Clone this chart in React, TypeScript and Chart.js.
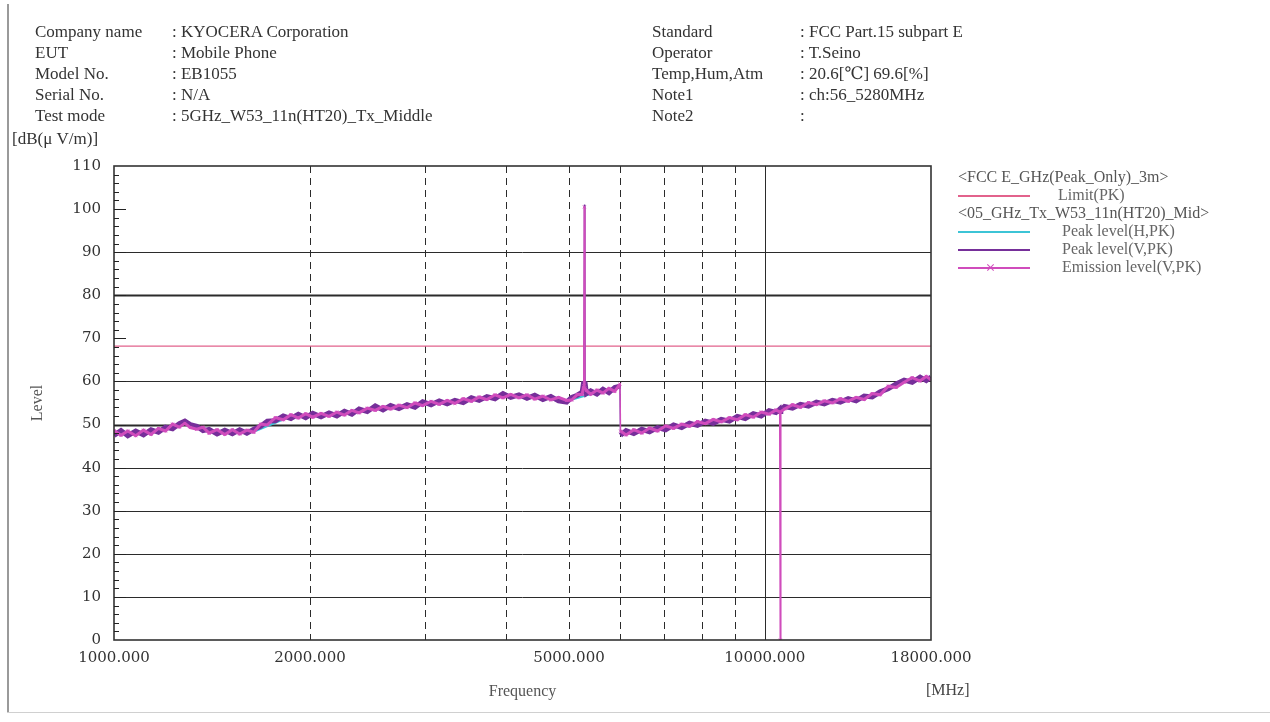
import React, { useEffect, useRef } from 'react';
import { Chart, registerables } from 'chart.js';
Chart.register(...registerables);

const TICK_FONT = '"DejaVu Serif", "Liberation Serif", serif';
const TEXT_FONT = '"Liberation Serif", "DejaVu Serif", serif';

// ---- axis definitions ----
const yMin = 0;
const yMax = 110;
const yGridLines = [10, 20, 30, 40, 50, 60, 80, 90];
const yThickLines = [50, 80];
const xMin = 1000;
const xMax = 18000;
const xTickValues = [1000, 2000, 3000, 4000, 5000, 6000, 7000, 8000, 9000, 10000, 18000];
const xLabelValues = [1000, 2000, 5000, 10000, 18000];
const xDashedLines = [2000, 3000, 4000, 5000, 6000, 7000, 8000, 9000];
const xSolidLines = [10000];

// ---- limit ----
const limitFreqs = [1000, 18000];
const limitLevels = [68.2, 68.2];

// ---- measured traces (MHz / dBuV/m) ----
const freqs = [
  1000, 1025, 1050, 1080, 1110, 1140, 1170, 1200, 1230, 1260,
  1285, 1310, 1340, 1370, 1400, 1440, 1480, 1520, 1560, 1600,
  1640, 1680, 1720, 1770, 1820, 1870, 1920, 1970, 2020, 2080,
  2140, 2200, 2260, 2320, 2380, 2450, 2520, 2590, 2660, 2740,
  2820, 2900, 2980, 3070, 3160, 3250, 3340, 3440, 3540, 3640,
  3740, 3850, 3960, 4070, 4190, 4310, 4430, 4560, 4690, 4820,
  4960, 5050, 5150, 5240, 5270, 5280, 5290, 5320, 5400, 5520,
  5640, 5760, 5880, 5990, 6000, 6120, 6290, 6470, 6650, 6840,
  7040, 7240, 7450, 7660, 7880, 8100, 8330, 8570, 8820, 9070,
  9330, 9600, 9870, 10150, 10400, 10540, 10560, 10580, 10720, 11030,
  11340, 11670, 12000, 12340, 12700, 13060, 13430, 13810, 14210, 14620,
  15040, 15470, 15910, 16370, 16840, 17320, 17700, 18000,
];

const peakV = [
  47.5, 48.6, 47.4, 48.5, 47.6, 48.8, 48.2, 49.4, 49.0, 50.2,
  50.8, 50.0, 49.6, 48.6, 48.9, 47.8, 48.7, 47.9, 48.8, 48.0,
  48.9, 49.6, 50.8, 50.9, 52.0, 51.4, 52.4, 51.6, 52.6, 51.8,
  52.7, 52.0, 53.1, 52.4, 53.6, 53.0, 54.3, 53.4, 54.4, 53.7,
  54.6, 54.0, 55.3, 54.6, 55.5, 54.8, 55.6, 55.1, 56.2, 55.6,
  56.5, 56.0, 57.2, 56.3, 56.9, 56.1, 56.8, 55.8, 56.5, 55.5,
  55.2, 56.3, 56.8, 57.5, 60.0, 101.0, 60.0, 57.2, 57.8, 57.1,
  58.2, 57.4, 58.6, 58.9, 47.5, 48.6, 47.9, 48.9, 48.3, 49.3,
  48.8, 49.9, 49.3, 50.3, 49.8, 50.8, 50.3, 51.2, 50.8, 51.9,
  51.4, 52.5, 52.0, 53.2, 52.8, 53.6, 53.0, 53.4, 54.2, 53.8,
  54.7, 54.3, 55.2, 54.8, 55.6, 55.2, 56.0, 55.5, 56.6, 56.4,
  57.6, 58.3, 59.4, 60.3, 59.8, 61.0, 60.2, 61.0,
];

const emissionV = [
  48.6, 47.5, 48.5, 47.4, 48.7, 47.7, 49.1, 48.5, 50.1, 49.4,
  50.3, 49.3, 48.9, 49.4, 48.0, 48.8, 47.7, 48.8, 47.8, 48.7,
  48.2, 50.1, 49.9, 51.6, 51.1, 52.3, 51.5, 52.5, 51.7, 52.6,
  51.9, 52.9, 52.2, 53.3, 52.7, 53.8, 53.3, 54.2, 53.6, 54.5,
  53.9, 55.0, 54.4, 55.4, 54.7, 55.6, 54.9, 56.0, 55.4, 56.4,
  55.8, 56.9, 56.2, 57.0, 56.2, 56.9, 55.9, 56.6, 55.7, 56.3,
  55.6, 55.7, 57.0, 57.0, 59.0, 100.5, 58.5, 57.9, 57.0, 58.0,
  57.3, 58.4, 57.7, 59.4, 48.5, 47.6, 48.8, 48.0, 49.2, 48.5,
  49.7, 49.1, 50.1, 49.6, 50.7, 50.2, 51.2, 50.6, 51.6, 51.1,
  52.3, 51.7, 52.9, 52.4, 53.4, 52.9, 0.0, 53.0, 53.6, 54.6,
  54.0, 55.1, 54.6, 55.5, 55.0, 56.0, 55.4, 56.3, 55.8, 57.2,
  56.9, 58.9, 58.6, 59.8, 60.9, 60.1, 61.2, 60.4,
];

const freqsH = [
  1000, 1150, 1285, 1450, 1650, 1850, 2000, 2400, 2800, 3200,
  3600, 4000, 4500, 5000, 5500, 5990, 6000, 7000, 8000, 9000,
  10000, 11000, 12000, 13000, 14000, 15000, 16000, 17000, 18000,
];
const peakH = [
  48.0, 48.2, 50.3, 48.2, 48.5, 51.6, 52.1, 53.2, 54.2, 55.0,
  55.8, 56.6, 56.3, 55.6, 57.4, 58.8, 48.0, 49.1, 50.4, 51.4,
  52.6, 54.1, 54.9, 55.5, 56.2, 57.3, 59.8, 60.3, 60.7,
];

// ---- colours ----
const C_LIMIT = '#e2628c';
const C_H = '#3cc4d6';
const C_V = '#762f9a';
const C_EM = '#d04cbc';
const C_GRID = '#2b2b2b';

const pts = (xs: number[], ys: number[]) => xs.map((x, i) => ({ x, y: ys[i] }));
const jumpWidth = (thin: number, thick: number) => (ctx: any) =>
  Math.abs(ctx.p1.parsed.y - ctx.p0.parsed.y) > 8 ? thin : thick;

const framePlugin = {
  id: 'frame',
  beforeDatasetsDraw(chart: any) {
    const { ctx, chartArea: a, scales } = chart;
    const x = scales.x;
    const y = scales.y;
    ctx.save();
    ctx.strokeStyle = C_GRID;
    for (const v of yGridLines) {
      const py = Math.round(y.getPixelForValue(v)) + 0.5;
      ctx.lineWidth = yThickLines.includes(v) ? 2.2 : 1;
      ctx.setLineDash([]);
      ctx.beginPath();
      ctx.moveTo(a.left, py);
      ctx.lineTo(a.right, py);
      ctx.stroke();
    }
    ctx.lineWidth = 1;
    for (const v of xDashedLines) {
      const px = Math.round(x.getPixelForValue(v)) + 0.5;
      ctx.setLineDash([7, 5]);
      ctx.beginPath();
      ctx.moveTo(px, a.top);
      ctx.lineTo(px, a.bottom);
      ctx.stroke();
    }
    for (const v of xSolidLines) {
      const px = Math.round(x.getPixelForValue(v)) + 0.5;
      ctx.setLineDash([]);
      ctx.beginPath();
      ctx.moveTo(px, a.top);
      ctx.lineTo(px, a.bottom);
      ctx.stroke();
    }
    ctx.restore();
  },
  afterDatasetsDraw(chart: any) {
    const { ctx, chartArea: a, scales } = chart;
    const y = scales.y;
    ctx.save();
    ctx.setLineDash([]);
    ctx.strokeStyle = '#333';
    ctx.lineWidth = 1.6;
    ctx.strokeRect(a.left, a.top, a.right - a.left, a.bottom - a.top);
    ctx.lineWidth = 1;
    ctx.strokeStyle = '#222';
    for (const t of y.ticks) {
      const v = t.value;
      if (v <= yMin || v >= yMax) continue;
      const py = Math.round(y.getPixelForValue(v)) + 0.5;
      const len = v % 10 === 0 ? 12 : 5;
      ctx.beginPath();
      ctx.moveTo(a.left, py);
      ctx.lineTo(a.left + len, py);
      ctx.stroke();
    }
    ctx.restore();
  },
};

const T = (left: number, cy: number, text: string, size = 17, color = '#333') => (
  <div
    style={{
      position: 'absolute',
      left,
      top: cy - size / 2 - 1,
      fontSize: size,
      lineHeight: `${size + 2}px`,
      whiteSpace: 'pre',
      color,
    }}
  >
    {text}
  </div>
);

const headerLeftKeys = ['Company name', 'EUT', 'Model No.', 'Serial No.', 'Test mode'];
const headerLeftVals = [': KYOCERA Corporation', ': Mobile Phone', ': EB1055', ': N/A', ': 5GHz_W53_11n(HT20)_Tx_Middle'];
const headerRightKeys = ['Standard', 'Operator', 'Temp,Hum,Atm', 'Note1', 'Note2'];
const headerRightVals = [': FCC Part.15 subpart E', ': T.Seino', ': 20.6[\u2103] 69.6[%]', ': ch:56_5280MHz', ':'];
const headerRows = [31, 52, 73, 94, 115];

export default function App() {
  const ref = useRef<HTMLCanvasElement>(null);
  useEffect(() => {
    document.body.style.margin = '0';
    const chart = new Chart(ref.current!, {
      type: 'line',
      data: {
        datasets: [
          {
            label: 'Emission level(V,PK)',
            data: pts(freqs, emissionV),
            borderColor: C_EM,
            backgroundColor: C_EM,
            borderWidth: 3,
            pointStyle: 'crossRot',
            pointRadius: 2,
            pointBorderWidth: 1,
            tension: 0,
            segment: { borderWidth: jumpWidth(1.5, 3) },
          },
          {
            label: 'Peak level(V,PK)',
            data: pts(freqs, peakV),
            borderColor: C_V,
            borderWidth: 5,
            pointRadius: 0,
            tension: 0,
            segment: { borderWidth: jumpWidth(1, 5) },
          },
          {
            label: 'Peak level(H,PK)',
            data: pts(freqsH, peakH),
            borderColor: C_H,
            borderWidth: 2,
            pointRadius: 0,
            tension: 0,
            segment: { borderWidth: jumpWidth(1, 2) },
          },
          {
            label: 'Limit(PK)',
            data: pts(limitFreqs, limitLevels),
            borderColor: C_LIMIT,
            borderWidth: 1.2,
            pointRadius: 0,
            tension: 0,
          },
        ],
      },
      options: {
        animation: false,
        responsive: false,
        devicePixelRatio: 1,
        parsing: false as any,
        layout: { padding: { top: 166, right: 339, left: 0, bottom: 0 } },
        plugins: {
          legend: { display: false },
          tooltip: { enabled: false },
        },
        scales: {
          x: {
            type: 'logarithmic',
            min: xMin,
            max: xMax,
            afterBuildTicks: (scale: any) => {
              scale.ticks = xTickValues.map((value) => ({ value }));
            },
            afterFit: (scale: any) => {
              scale.height = 82;
            },
            grid: { display: false, drawTicks: false },
            border: { display: false },
            ticks: {
              autoSkip: false,
              maxRotation: 0,
              padding: 9,
              color: '#333',
              font: { family: TICK_FONT, size: 15 },
              callback: (v: any) => (xLabelValues.includes(Number(v)) ? Number(v).toFixed(3) : ''),
            },
            title: {
              display: true,
              text: 'Frequency',
              color: '#555',
              font: { family: TEXT_FONT, size: 16 },
              padding: { top: 0, bottom: 21 },
            },
          },
          y: {
            type: 'linear',
            min: yMin,
            max: yMax,
            afterFit: (scale: any) => {
              scale.width = 114;
            },
            grid: { display: false, drawTicks: false },
            border: { display: false },
            ticks: {
              stepSize: 2,
              autoSkip: false,
              padding: 13,
              color: '#333',
              font: { family: TICK_FONT, size: 15 },
              callback: (v: any) => (Number(v) % 10 === 0 ? String(v) : ''),
            },
            title: {
              display: true,
              text: 'Level',
              color: '#555',
              font: { family: TEXT_FONT, size: 16 },
              padding: { top: 28, bottom: 0 },
            },
          },
        },
      },
      plugins: [framePlugin],
    } as any);
    return () => chart.destroy();
  }, []);

  return (
    <div
      style={{
        position: 'relative',
        width: 1270,
        height: 722,
        background: '#fff',
        fontFamily: TEXT_FONT,
        overflow: 'hidden',
      }}
    >
      <canvas ref={ref} width={1270} height={722} style={{ position: 'absolute', left: 0, top: 0 }} />
      <div style={{ position: 'absolute', left: 7, top: 4, width: 2, height: 708, background: '#9a9a9a' }} />
      <div style={{ position: 'absolute', left: 7, top: 712, width: 1263, height: 1, background: '#d0d0d0' }} />

      {headerLeftKeys.map((k, i) => <React.Fragment key={'lk' + i}>{T(35, headerRows[i], k)}</React.Fragment>)}
      {headerLeftVals.map((k, i) => <React.Fragment key={'lv' + i}>{T(172, headerRows[i], k)}</React.Fragment>)}
      {headerRightKeys.map((k, i) => <React.Fragment key={'rk' + i}>{T(652, headerRows[i], k)}</React.Fragment>)}
      {headerRightVals.map((k, i) => <React.Fragment key={'rv' + i}>{T(800, headerRows[i], k)}</React.Fragment>)}

      {T(12, 138, '[dB(\u03bc V/m)]', 17)}
      {T(926, 690, '[MHz]', 16, '#444')}

      {/* legend */}
      {T(958, 177, '<FCC E_GHz(Peak_Only)_3m>', 16, '#555')}
      <div style={{ position: 'absolute', left: 958, top: 195, width: 72, height: 2, background: C_LIMIT }} />
      {T(1058, 195, 'Limit(PK)', 16, '#666')}
      {T(958, 213, '<05_GHz_Tx_W53_11n(HT20)_Mid>', 16, '#555')}
      <div style={{ position: 'absolute', left: 958, top: 231, width: 72, height: 2, background: C_H }} />
      {T(1062, 231, 'Peak level(H,PK)', 16, '#666')}
      <div style={{ position: 'absolute', left: 958, top: 249, width: 72, height: 2, background: C_V }} />
      {T(1062, 249, 'Peak level(V,PK)', 16, '#666')}
      <div style={{ position: 'absolute', left: 958, top: 267, width: 72, height: 2, background: C_EM }} />
      <div style={{ position: 'absolute', left: 990, top: 263, width: 1, height: 9, background: C_EM, transform: 'rotate(45deg)' }} />
      <div style={{ position: 'absolute', left: 990, top: 263, width: 1, height: 9, background: C_EM, transform: 'rotate(-45deg)' }} />
      {T(1062, 267, 'Emission level(V,PK)', 16, '#666')}
    </div>
  );
}
